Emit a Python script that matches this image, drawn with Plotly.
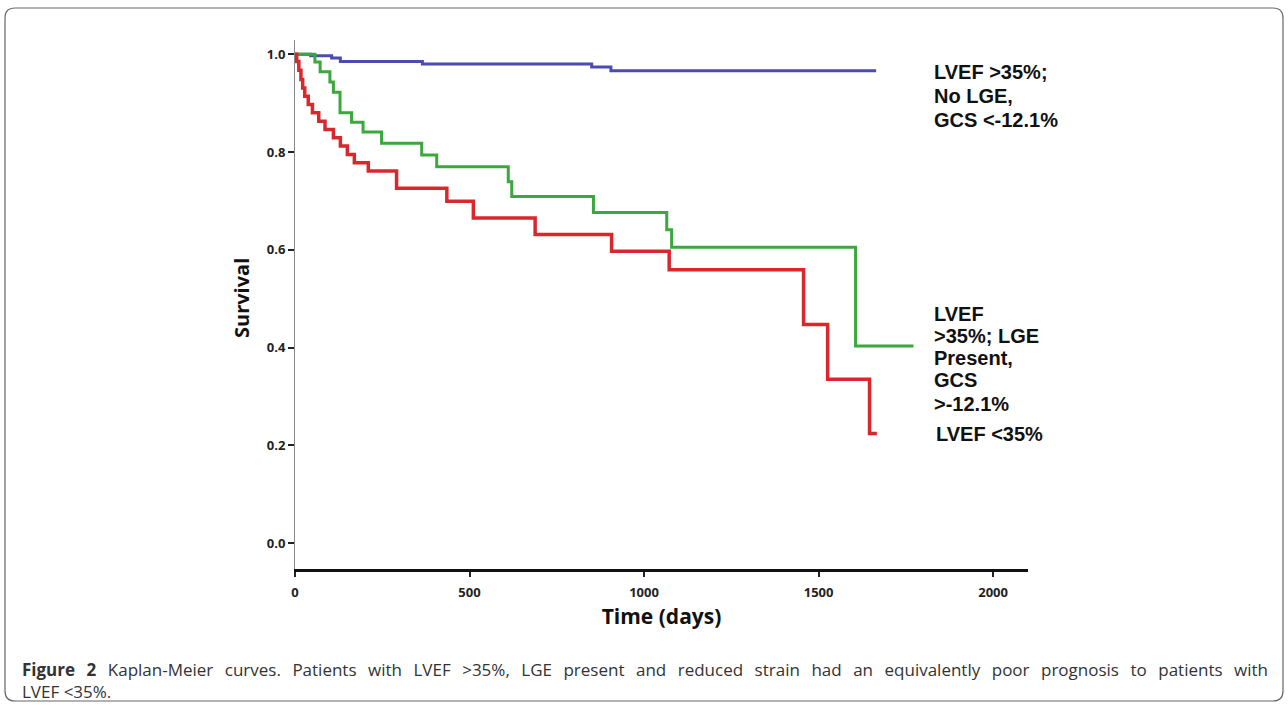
import plotly.graph_objects as go

# ---- data ----
blue_t = [0, 45, 105, 130, 365, 850, 905]
blue_s = [1.0, 0.997, 0.992, 0.985, 0.980, 0.974, 0.966]
blue_end = 1665

green_t = [0, 57, 72, 100, 110, 129, 162, 195, 248, 363, 406, 611, 621, 855, 1065, 1079, 1606]
green_s = [1.0, 0.984, 0.964, 0.943, 0.922, 0.880, 0.861, 0.841, 0.818, 0.794, 0.770, 0.739, 0.709, 0.676, 0.641, 0.605, 0.403]
green_end = 1772

red_t = [0, 5, 11, 17, 22, 28, 38, 50, 68, 86, 110, 130, 150, 170, 210, 291, 435, 511, 688, 907, 1072, 1457, 1526, 1646]
red_s = [1.0, 0.985, 0.967, 0.948, 0.931, 0.914, 0.897, 0.880, 0.863, 0.846, 0.829, 0.812, 0.795, 0.778, 0.761, 0.726, 0.699, 0.665, 0.631, 0.597, 0.559, 0.447, 0.335, 0.224]
red_end = 1667

x_ticks = [0, 500, 1000, 1500, 2000]
y_ticks = [0.0, 0.2, 0.4, 0.6, 0.8, 1.0]
y_tick_labels = ["0.0", "0.2", "0.4", "0.6", "0.8", "1.0"]

label_top = ["LVEF >35%;", "No LGE,", "GCS <-12.1%"]
label_mid = ["LVEF", ">35%; LGE", "Present,", "GCS", ">-12.1%"]
label_low = "LVEF <35%"
caption1_bold = "Figure 2"
caption1 = "Kaplan-Meier curves. Patients with LVEF >35%, LGE present and reduced strain had an equivalently poor prognosis to patients with"
caption2 = "LVEF <35%."

W, H = 1288, 705
ML, MR, MT, MB = 295, 260, 40, 136
PW = W - ML - MR
PH = H - MT - MB


def px(xp):
    return (xp - ML) / PW


def py(yp):
    return (H - MB - yp) / PH


fig = go.Figure()

for t, s, end, col, w in [
    (blue_t, blue_s, blue_end, "#4b4cae", 3),
    (green_t, green_s, green_end, "#3aa83c", 3),
    (red_t, red_s, red_end, "#d8282e", 3.5),
]:
    fig.add_trace(go.Scatter(
        x=t + [end], y=s + [s[-1]], mode="lines",
        line=dict(color=col, width=w, shape="hv"),
        showlegend=False, hoverinfo="skip",
    ))

fig.update_layout(
    width=W, height=H,
    margin=dict(l=ML, r=MR, t=MT, b=MB),
    paper_bgcolor="white", plot_bgcolor="white",
    xaxis=dict(
        range=[0, 2100], tickvals=x_ticks, ticks="outside", ticklen=5, tickwidth=1.5,
        tickcolor="#222", showgrid=False, zeroline=False, ticklabelstandoff=4,
        showline=True, linecolor="#111", linewidth=3,
        tickfont=dict(family="Open Sans", size=13, color="#222", weight="bold"),
        title=dict(text="Time (days)", font=dict(family="Open Sans", size=21, color="#111", weight="bold"), standoff=10),
    ),
    yaxis=dict(
        range=[-0.053, 1.029], tickvals=y_ticks, ticktext=y_tick_labels, ticks="outside", ticklen=6,
        tickwidth=1.5, tickcolor="#222", showgrid=False, zeroline=False,
        showline=True, linecolor="#888", linewidth=1,
        tickfont=dict(family="Open Sans", size=13, color="#222", weight="bold"),
    ),
)

# y-axis title, placed as in the reference (slightly above the plot centre)
fig.add_annotation(x=px(241), y=py(298), xref="paper", yref="paper", text="Survival", textangle=-90,
                   showarrow=False, xanchor="center", yanchor="middle",
                   font=dict(family="Open Sans", size=20, color="#111", weight="bold"))

lab_font = dict(family="Liberation Sans", size=20, color="#111", weight="bold")
LX = 932
for txt, yc in zip(label_top, [72, 96, 120]):
    fig.add_annotation(x=px(LX), y=py(yc), xref="paper", yref="paper", text=txt, showarrow=False,
                       xanchor="left", yanchor="middle", align="left", font=lab_font)
for txt, yc in zip(label_mid, [314, 336, 358, 380, 404]):
    fig.add_annotation(x=px(LX), y=py(yc), xref="paper", yref="paper", text=txt, showarrow=False,
                       xanchor="left", yanchor="middle", align="left", font=lab_font)
fig.add_annotation(x=px(LX + 2), y=py(434), xref="paper", yref="paper", text=label_low, showarrow=False,
                   xanchor="left", yanchor="middle", align="left", font=lab_font)

# caption: widen word gaps to imitate the justified line of the reference
gap = " \u2005\u2009"
cap_font = dict(family="Open Sans", size=17, color="#333")
fig.add_annotation(x=px(20), y=py(680), xref="paper", yref="paper",
                   text="<b>" + caption1_bold.replace(" ", gap) + "</b>" + gap + caption1.replace(" ", gap)
                   + "<br>" + caption2,
                   showarrow=False, xanchor="left", yanchor="middle", align="left", font=cap_font)

# rounded frame around the figure
x0, x1, y0, y1, r = 5, 1283, 8, 701, 10
path = (f"M {px(x0 + r)},{py(y0)} L {px(x1 - r)},{py(y0)} Q {px(x1)},{py(y0)} {px(x1)},{py(y0 + r)} "
        f"L {px(x1)},{py(y1 - r)} Q {px(x1)},{py(y1)} {px(x1 - r)},{py(y1)} "
        f"L {px(x0 + r)},{py(y1)} Q {px(x0)},{py(y1)} {px(x0)},{py(y1 - r)} "
        f"L {px(x0)},{py(y0 + r)} Q {px(x0)},{py(y0)} {px(x0 + r)},{py(y0)} Z")
fig.add_shape(type="path", path=path, xref="paper", yref="paper",
              line=dict(color="#666", width=1.2), fillcolor="rgba(0,0,0,0)", layer="below")

fig.write_html("out.html", config={"displayModeBar": False},
               post_script="document.body.style.margin='0';document.body.style.overflow='hidden';")
